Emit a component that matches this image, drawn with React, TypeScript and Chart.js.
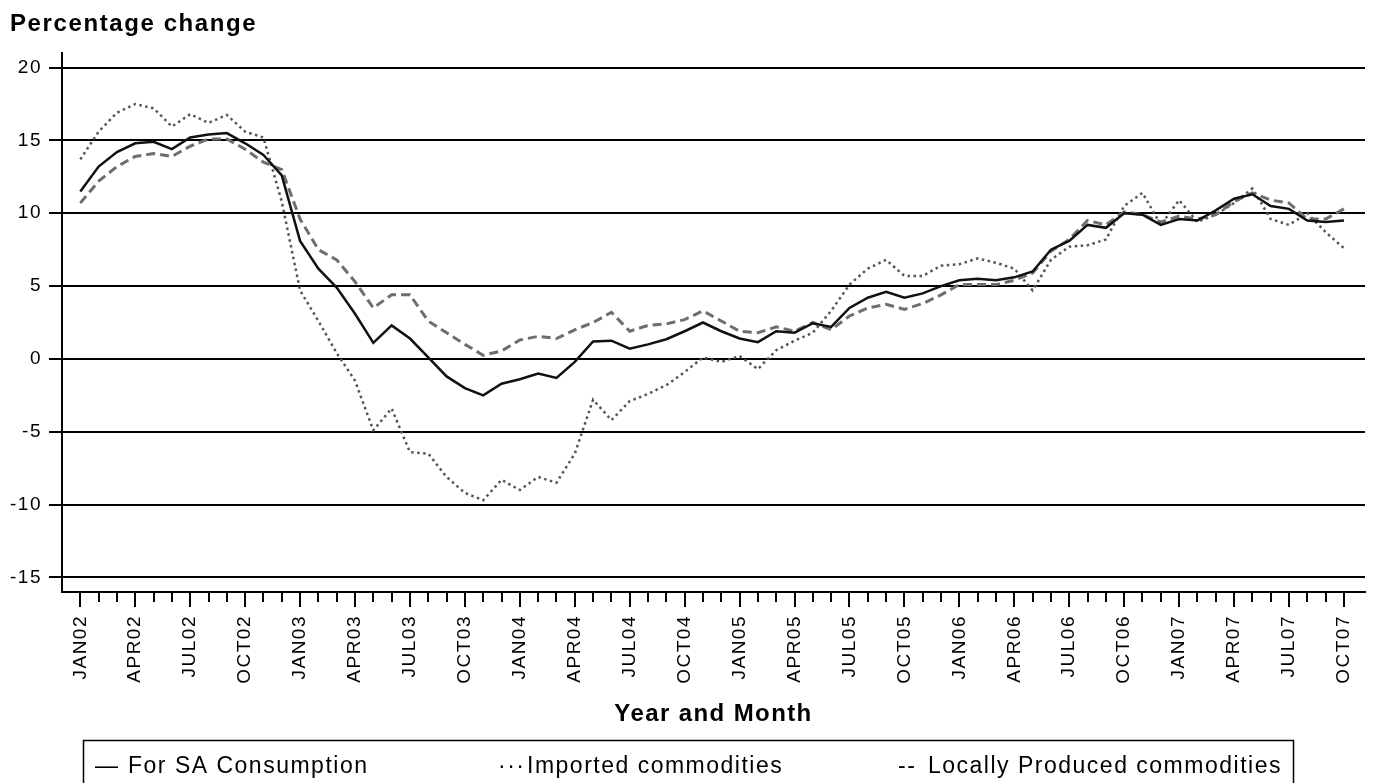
import React, { useEffect, useRef } from 'react';
import { Chart, registerables } from 'chart.js';

Chart.register(...registerables);

const MONTH_LABELS = [
  'JAN02', 'FEB02', 'MAR02', 'APR02', 'MAY02', 'JUN02', 'JUL02', 'AUG02', 'SEP02', 'OCT02', 'NOV02', 'DEC02',
  'JAN03', 'FEB03', 'MAR03', 'APR03', 'MAY03', 'JUN03', 'JUL03', 'AUG03', 'SEP03', 'OCT03', 'NOV03', 'DEC03',
  'JAN04', 'FEB04', 'MAR04', 'APR04', 'MAY04', 'JUN04', 'JUL04', 'AUG04', 'SEP04', 'OCT04', 'NOV04', 'DEC04',
  'JAN05', 'FEB05', 'MAR05', 'APR05', 'MAY05', 'JUN05', 'JUL05', 'AUG05', 'SEP05', 'OCT05', 'NOV05', 'DEC05',
  'JAN06', 'FEB06', 'MAR06', 'APR06', 'MAY06', 'JUN06', 'JUL06', 'AUG06', 'SEP06', 'OCT06', 'NOV06', 'DEC06',
  'JAN07', 'FEB07', 'MAR07', 'APR07', 'MAY07', 'JUN07', 'JUL07', 'AUG07', 'SEP07', 'OCT07',
];

const SA_CONSUMPTION = [
  11.5, 13.2, 14.2, 14.8, 14.9, 14.4, 15.2, 15.4, 15.5, 14.8, 14.0, 12.6,
  8.1, 6.2, 4.9, 3.1, 1.1, 2.3, 1.4, 0.1, -1.2, -2.0, -2.5, -1.7,
  -1.4, -1.0, -1.3, -0.2, 1.2, 1.25, 0.7, 1.0, 1.35, 1.9, 2.5, 1.9,
  1.4, 1.15, 1.9, 1.8, 2.45, 2.2, 3.5, 4.2, 4.6, 4.2, 4.5, 5.0,
  5.4, 5.5, 5.4, 5.6, 6.0, 7.5, 8.1, 9.2, 9.0, 10.0, 9.9, 9.2,
  9.6, 9.5, 10.2, 11.0, 11.3, 10.5, 10.3, 9.5, 9.4, 9.5,
];

const IMPORTED = [
  13.7, 15.6, 16.9, 17.5, 17.2, 15.95, 16.8, 16.2, 16.75, 15.6, 15.2, 10.8,
  4.7, 2.6, 0.4, -1.5, -4.9, -3.4, -6.4, -6.5, -8.1, -9.2, -9.7, -8.3,
  -9.0, -8.1, -8.5, -6.5, -2.8, -4.2, -2.9, -2.4, -1.8, -0.9, 0.1, -0.2,
  0.2, -0.7, 0.6, 1.25, 1.8, 3.3, 5.1, 6.2, 6.8, 5.7, 5.7, 6.4,
  6.5, 6.9, 6.6, 6.2, 4.7, 6.8, 7.7, 7.8, 8.2, 10.5, 11.4, 9.2,
  10.9, 9.4, 9.9, 10.7, 11.7, 9.6, 9.2, 10.0, 8.7, 7.6,
];

const LOCALLY_PRODUCED = [
  10.7, 12.2, 13.2, 13.9, 14.1, 13.9, 14.6, 15.1, 15.1, 14.4, 13.5, 13.0,
  9.6, 7.5, 6.8, 5.3, 3.5, 4.4, 4.4, 2.6, 1.8, 1.0, 0.25, 0.55,
  1.3, 1.55, 1.4, 2.0, 2.5, 3.2, 1.9, 2.3, 2.4, 2.7, 3.3, 2.6,
  1.9, 1.8, 2.2, 1.9, 2.5, 2.0, 2.95, 3.5, 3.75, 3.4, 3.8, 4.4,
  5.1, 5.1, 5.1, 5.4, 5.9, 7.4, 8.2, 9.5, 9.2, 10.1, 9.9, 9.4,
  9.8, 9.6, 9.9, 10.8, 11.4, 10.9, 10.7, 9.6, 9.6, 10.3,
];

const SERIES_NAMES = ['For SA Consumption', 'Imported commodities', 'Locally Produced commodities'];
const LEGEND_MARKERS = ['\u2014', '\u00b7\u00b7\u00b7', '--'];
const Y_TICKS = [-15, -10, -5, 0, 5, 10, 15, 20];

const TITLE = 'Percentage change';
const X_TITLE = 'Year and Month';

const FONT = '"Liberation Sans", Arial, Helvetica, sans-serif';

const textPlugin = {
  id: 'sasText',
  beforeDraw(chart: any) {
    chart.ctx.letterSpacing = '1.5px';
  },
  afterDraw(chart: any) {
    const ctx = chart.ctx as CanvasRenderingContext2D & { letterSpacing: string };
    const xs = chart.scales.x;
    const area = chart.chartArea;
    ctx.save();
    // x tick marks: long at labelled months, short elsewhere
    ctx.strokeStyle = '#000';
    ctx.lineWidth = 2;
    MONTH_LABELS.forEach((_, i) => {
      const px = Math.round(xs.getPixelForValue(i));
      const len = i % 3 === 0 ? 15 : 10;
      ctx.beginPath();
      ctx.moveTo(px, area.bottom);
      ctx.lineTo(px, area.bottom + len);
      ctx.stroke();
    });

    ctx.fillStyle = '#000';
    ctx.textBaseline = 'alphabetic';

    // Title
    ctx.font = `bold 24px ${FONT}`;
    ctx.letterSpacing = '1.6px';
    ctx.textAlign = 'left';
    ctx.fillText(TITLE, 10, 31);

    // X axis title
    ctx.letterSpacing = '1.4px';
    ctx.textAlign = 'center';
    ctx.fillText(X_TITLE, (area.left + area.right) / 2, 721);

    // Legend box
    ctx.lineWidth = 1.5;
    ctx.strokeRect(83.5, 740.5, 1210, 80);
    ctx.font = `23px ${FONT}`;
    ctx.letterSpacing = '1.5px';
    ctx.textAlign = 'left';
    const markerX = [95, 498, 898];
    const labelX = [128, 527, 928];
    chart.data.datasets.forEach((ds: any, i: number) => {
      ctx.fillText(LEGEND_MARKERS[i], markerX[i], 773);
      ctx.fillText(ds.label, labelX[i], 773);
    });
    ctx.restore();
    ctx.letterSpacing = '0px';
  },
};

export default function App() {
  const canvasRef = useRef<HTMLCanvasElement | null>(null);

  useEffect(() => {
    if (!canvasRef.current) return;
    const toPoints = (arr: number[]) => arr.map((v, i) => ({ x: i, y: v }));
    const chart = new Chart(canvasRef.current, {
      type: 'line',
      data: {
        datasets: [
          {
            label: SERIES_NAMES[0],
            data: toPoints(SA_CONSUMPTION),
            borderColor: '#111',
            borderWidth: 2.5,
            pointRadius: 0,
            tension: 0,
            order: 0,
          },
          {
            label: SERIES_NAMES[1],
            data: toPoints(IMPORTED),
            borderColor: '#555',
            borderWidth: 2.5,
            borderDash: [2.5, 3.5],
            pointRadius: 0,
            tension: 0,
            order: 2,
          },
          {
            label: SERIES_NAMES[2],
            data: toPoints(LOCALLY_PRODUCED),
            borderColor: '#6e6e6e',
            borderWidth: 3,
            borderDash: [9, 5],
            pointRadius: 0,
            tension: 0,
            order: 1,
          },
        ],
      },
      options: {
        animation: false,
        responsive: false,
        devicePixelRatio: 1,
        layout: { padding: { top: 53, right: 10, left: 0, bottom: 0 } },
        plugins: {
          legend: { display: false },
          title: { display: false },
          tooltip: { enabled: false },
        },
        scales: {
          x: {
            type: 'linear',
            min: -1,
            max: 70.15,
            afterBuildTicks: (scale: any) => {
              scale.ticks = MONTH_LABELS.map((_, i) => ({ value: i }));
            },
            afterFit: (scale: any) => {
              scale.height = 191;
            },
            grid: {
              display: true,
              drawOnChartArea: false,
              drawTicks: true,
              tickLength: 15,
              tickColor: 'rgba(0,0,0,0)',
            },
            border: { display: true, color: '#000', width: 2 },
            ticks: {
              autoSkip: false,
              minRotation: 90,
              maxRotation: 90,
              padding: 8,
              color: '#000',
              font: { family: FONT, size: 19 },
              callback: (value: any) => {
                const i = Number(value);
                return i % 3 === 0 ? MONTH_LABELS[i] : '';
              },
            },
          },
          y: {
            type: 'linear',
            min: -16,
            max: 21,
            afterBuildTicks: (scale: any) => {
              scale.ticks = Y_TICKS.map((v) => ({ value: v }));
            },
            afterFit: (scale: any) => {
              scale.width = 62;
            },
            grid: {
              color: '#000',
              lineWidth: 2,
              drawTicks: true,
              tickLength: 13,
            },
            border: { display: true, color: '#000', width: 2 },
            ticks: {
              padding: 7,
              color: '#000',
              font: { family: FONT, size: 19 },
              callback: (value: any) => String(value),
            },
          },
        },
      },
      plugins: [textPlugin],
    } as any);
    return () => chart.destroy();
  }, []);

  return (
    <div style={{ position: 'fixed', left: 0, top: 0, width: 1375, height: 783, background: '#fff' }}>
      <canvas ref={canvasRef} width={1375} height={783} style={{ display: 'block' }} />
    </div>
  );
}
